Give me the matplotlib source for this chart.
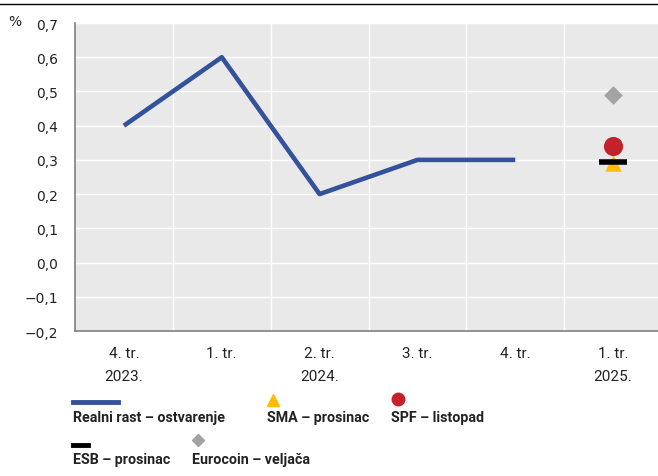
import matplotlib
matplotlib.use("Agg")
import matplotlib.pyplot as plt
from matplotlib.lines import Line2D
from matplotlib import font_manager

names = {f.name for f in font_manager.fontManager.ttflist}
COND = "Liberation Sans Narrow" if "Liberation Sans Narrow" in names else "Roboto"

quarters = ["4. tr.", "1. tr.", "2. tr.", "3. tr.", "4. tr.", "1. tr."]
years = ["2023.", "", "2024.", "", "", "2025."]
real_growth = [0.4, 0.6, 0.2, 0.3, 0.3]
forecast_idx = 5
sma_dec = 0.29
spf_oct = 0.34
esb_dec = 0.295
eurocoin_feb = 0.49

blue = "#34519b"
yellow = "#ffbc00"
red = "#c3222a"
grey = "#a3a3a3"

fig = plt.figure(figsize=(6.58, 4.77), dpi=100)
ax = fig.add_axes([75/658, 1-332/477, (662-75)/658, (332-24)/477])
ax.set_facecolor("#e9e9e9")

x_real = list(range(len(real_growth)))
ax.plot(x_real, real_growth, color=blue, lw=3.3, solid_capstyle="butt", zorder=3)
ax.scatter([forecast_idx], [sma_dec], marker="^", s=140, color=yellow, zorder=3, linewidths=0)
ax.scatter([forecast_idx], [spf_oct], marker="o", s=190, color=red, zorder=4, linewidths=0)
ax.scatter([forecast_idx], [esb_dec], marker="_", s=400, color="black", linewidths=4, zorder=5)
ax.scatter([forecast_idx], [eurocoin_feb], marker="D", s=90, color=grey, zorder=3, linewidths=0)

ax.set_xlim(-0.5, len(quarters) - 0.5)
ax.set_ylim(-0.2, 0.7)
ax.set_yticks([i / 10 for i in range(-2, 8)])
ax.set_yticklabels([f"{i/10:.1f}".replace(".", ",").replace("-", "\u2212") for i in range(-2, 8)],
                   fontsize=10, color="#222222", family="DejaVu Sans")
ax.set_xticks(range(len(quarters)))
ax.set_xticklabels([f"{q}\n{y}" for q, y in zip(quarters, years)], fontsize=11,
                   family=COND, color="#222222", linespacing=1.75)
ax.set_xticks([i + 0.5 for i in range(len(quarters) - 1)], minor=True)
ax.grid(True, which="major", axis="y", color="white", lw=1)
ax.grid(True, which="minor", axis="x", color="white", lw=1)
ax.tick_params(axis="both", which="both", length=0)
ax.tick_params(axis="y", pad=12)
ax.tick_params(axis="x", pad=11)
for s in ["top", "right"]:
    ax.spines[s].set_visible(False)
for s in ["left", "bottom"]:
    ax.spines[s].set_color("#808080")
    ax.spines[s].set_linewidth(1.2)

fig.text(8/658, 1-22/477, "%", fontsize=10, color="#222222", family="DejaVu Sans", va="center")
fig.add_artist(Line2D([0, 1], [1-5/477, 1-5/477], color="black", lw=1, transform=fig.transFigure))

def fx(px):
    return px / 658
def fy(py):
    return 1 - py / 477

fs = 10.3
# legend row 1
fig.add_artist(Line2D([fx(73), fx(118)], [fy(403), fy(403)], color=blue, lw=3.5, transform=fig.transFigure))
fig.text(fx(73), fy(418), "Realni rast – ostvarenje", fontsize=fs, family=COND, fontweight="bold", va="center", color="#222222")
fig.add_artist(Line2D([fx(273)], [fy(401)], marker="^", ms=9, color=yellow, lw=0, transform=fig.transFigure))
fig.text(fx(267), fy(418), "SMA – prosinac", fontsize=fs, family=COND, fontweight="bold", va="center", color="#222222")
fig.add_artist(Line2D([fx(398)], [fy(400)], marker="o", ms=9, color=red, lw=0, transform=fig.transFigure))
fig.text(fx(391), fy(418), "SPF – listopad", fontsize=fs, family=COND, fontweight="bold", va="center", color="#222222")
# legend row 2
fig.add_artist(Line2D([fx(73), fx(88)], [fy(446), fy(446)], color="black", lw=3.5, transform=fig.transFigure))
fig.text(fx(73), fy(460), "ESB – prosinac", fontsize=fs, family=COND, fontweight="bold", va="center", color="#222222")
fig.add_artist(Line2D([fx(198)], [fy(441)], marker="D", ms=6, color=grey, lw=0, transform=fig.transFigure))
fig.text(fx(192), fy(460), "Eurocoin – veljača", fontsize=fs, family=COND, fontweight="bold", va="center", color="#222222")

fig.savefig("out.png", dpi=100)
